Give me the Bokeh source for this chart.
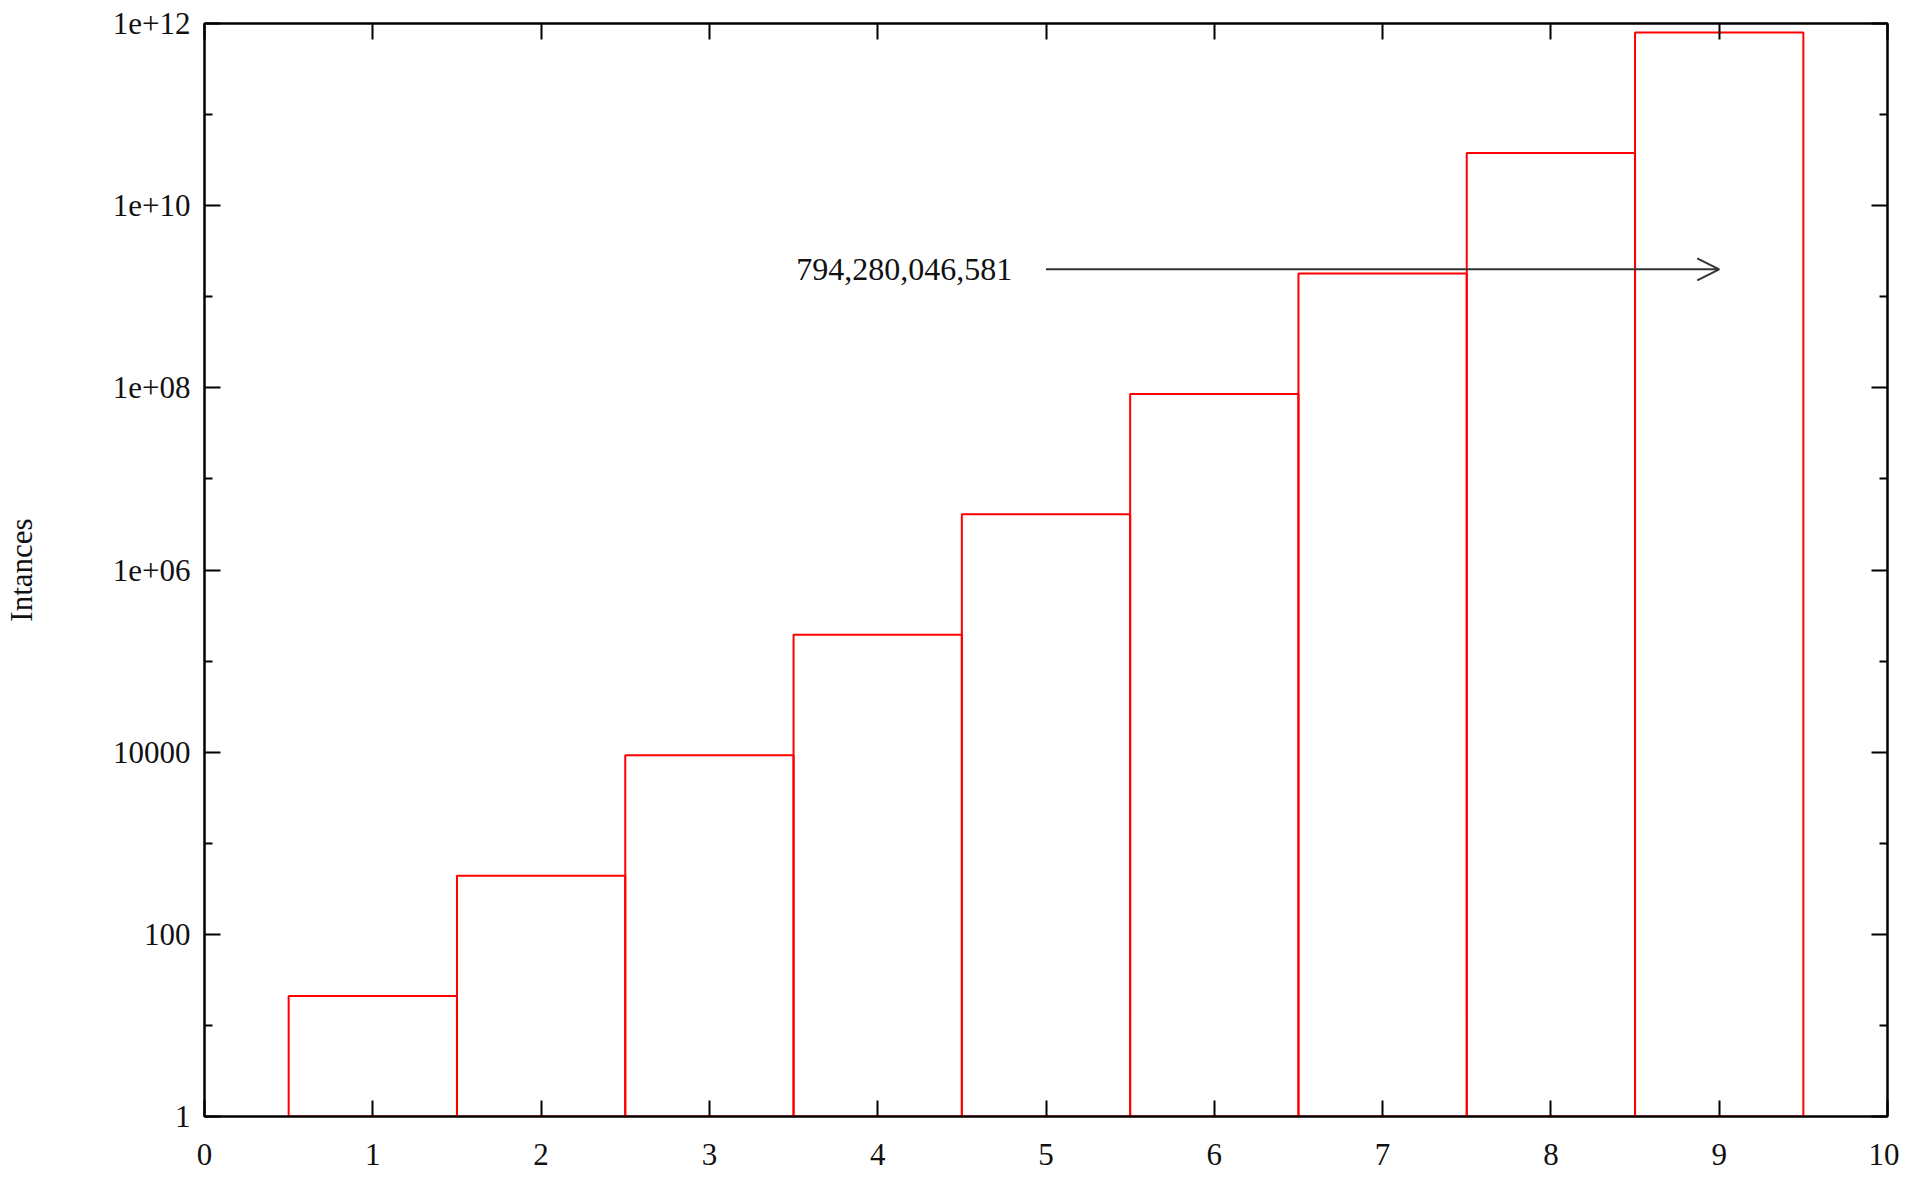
from bokeh.plotting import figure
from bokeh.models import (FixedTicker, CustomJSTickFormatter, LogAxis, LinearAxis,
                          Arrow, OpenHead, Label, ColumnDataSource)
from bokeh.embed import file_html
from bokeh.resources import INLINE

# ---- data ----
categories = [1, 2, 3, 4, 5, 6, 7, 8, 9]
instances = [21, 441, 9261, 194481, 4084101, 85766121, 1801088541,
             37822859361, 794280046581]
x_ticks = [0, 1, 2, 3, 4, 5, 6, 7, 8, 9, 10]
y_ticks = [1, 100, 10000, 1e6, 1e8, 1e10, 1e12]
y_tick_labels = ["1", "100", "10000", "1e+06", "1e+08", "1e+10", "1e+12"]
y_minor = [10, 1e3, 1e5, 1e7, 1e9, 1e11]
y_label = "Intances"

# annotation (arrow pointing to the last bar)
note_text = f"{instances[-1]:,}"
note_y = 2e9
note_x_text = 4.8
arrow_x0, arrow_x1 = 5.0, 9.0

FONT = "Liberation Serif"
FS = "31px"

src = ColumnDataSource(dict(
    left=[c - 0.5 for c in categories],
    right=[c + 0.5 for c in categories],
    top=instances,
    bottom=[1] * len(categories),
))

p = figure(width=1899, height=1176, frame_width=1683, frame_height=1093,
           x_range=(0, 10), y_range=(1, 1e12), y_axis_type="log",
           output_backend="svg", toolbar_location=None,
           min_border_left=201, min_border_top=23, min_border_right=12,
           min_border_bottom=60, background_fill_color="white",
           border_fill_color="white")
p.grid.visible = False
p.outline_line_color = "black"
p.outline_line_width = 2

p.quad(left="left", right="right", top="top", bottom="bottom", source=src,
       fill_color=None, line_color="#ff0000", line_width=2)

fmt = CustomJSTickFormatter(args=dict(vals=y_ticks, labs=y_tick_labels), code="""
for (let i = 0; i < vals.length; i++) {
  if (Math.abs(Math.log10(tick) - Math.log10(vals[i])) < 1e-6) return labs[i];
}
return "";
""")
blank = CustomJSTickFormatter(code="return '';")

yt = FixedTicker(ticks=y_ticks, minor_ticks=y_minor)
xt = FixedTicker(ticks=x_ticks)

def style(ax):
    ax.axis_line_color = "black"
    ax.axis_line_width = 2
    ax.major_tick_in = 16
    ax.major_tick_out = 0
    ax.minor_tick_in = 8
    ax.minor_tick_out = 0
    ax.major_tick_line_width = 2
    ax.minor_tick_line_width = 2
    ax.major_label_text_font = FONT
    ax.major_label_text_font_size = FS
    ax.major_label_text_color = "#111111"

yax = p.yaxis[0]
yax.ticker = yt
yax.formatter = fmt
style(yax)
yax.major_label_standoff = 14
yax.axis_label = y_label
yax.axis_label_text_font = FONT
yax.axis_label_text_font_size = FS
yax.axis_label_text_font_style = "normal"
yax.axis_label_standoff = 71
yax.axis_label_text_color = "#111111"

xax = p.xaxis[0]
xax.ticker = xt
style(xax)
xax.major_label_standoff = 27

top_ax = LinearAxis(ticker=FixedTicker(ticks=x_ticks), formatter=blank)
style(top_ax)
top_ax.major_label_standoff = 0
p.add_layout(top_ax, "above")

right_ax = LogAxis(ticker=FixedTicker(ticks=y_ticks, minor_ticks=y_minor), formatter=blank)
style(right_ax)
right_ax.major_label_standoff = 0
p.add_layout(right_ax, "right")

p.add_layout(Arrow(x_start=arrow_x0, y_start=note_y, x_end=arrow_x1, y_end=note_y,
                   line_color="#333333", line_width=2,
                   end=OpenHead(size=22, line_color="#333333", line_width=2)))
p.add_layout(Label(x=note_x_text, y=note_y, text=note_text, text_align="right",
                   text_baseline="middle", text_font=FONT, text_font_size="32px",
                   text_color="#111111"))

open("out.html", "w").write(file_html(p, INLINE))
